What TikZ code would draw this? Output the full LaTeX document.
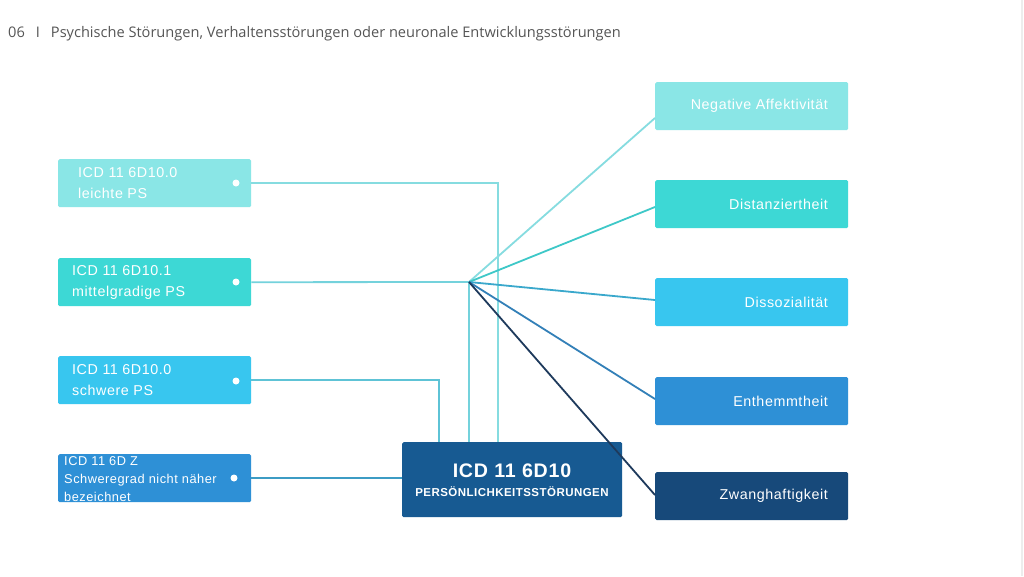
\documentclass[tikz,border=0pt]{standalone}
\usepackage{fontspec}
\setmainfont{Open Sans}
\newfontfamily\boxfont[LetterSpace=4]{Liberation Sans}
\usetikzlibrary{calc}
\definecolor{cA}{HTML}{8AE6E6}
\definecolor{cB}{HTML}{3DD8D5}
\definecolor{cC}{HTML}{38C6EF}
\definecolor{cD}{HTML}{2E90D6}
\definecolor{cE}{HTML}{175A92}
\definecolor{cF}{HTML}{17497A}
\definecolor{lA}{HTML}{86DCE0}
\definecolor{lB}{HTML}{3EC8C8}
\definecolor{lC}{HTML}{3AA8CC}
\definecolor{lD}{HTML}{3380B8}
\definecolor{lE}{HTML}{1E3A5C}
\definecolor{lV}{HTML}{74D2DC}
\definecolor{lW}{HTML}{5EC3D6}
\definecolor{lX}{HTML}{3C9CC4}
\definecolor{titlegrey}{HTML}{555555}
\tikzset{
  box/.style={rectangle, rounded corners=1.5pt, minimum width=193pt, minimum height=48pt, inner sep=0pt, anchor=north west},
  ltext/.style={anchor=west, align=left, text=white, inner sep=0pt, font=\boxfont\fontsize{14.3}{21}\selectfont},
  rtext/.style={anchor=east, text=white, inner sep=0pt, font=\boxfont\fontsize{14.3}{16}\selectfont},
  dot/.style={circle, fill=white, minimum size=7pt, inner sep=0pt},
  conn/.style={line width=1.8pt},
}
\begin{document}
\begin{tikzpicture}[x=1pt,y=-1pt]
\useasboundingbox (0,0) rectangle (1024,576);
\fill[white] (0,0) rectangle (1024,576);
\draw[line width=2pt, color=black!7] (1022,0) -- (1022,576);
% title
\node[anchor=base west, inner sep=0pt, text=titlegrey, font=\fontsize{14.6}{17}\selectfont] (title) at (8,37)
  {06\hspace{11pt}I\hspace{11pt}Psychische Störungen, Verhaltensstörungen oder neuronale Entwicklungsstörungen};
% left boxes
\node[box, fill=cA] (b1) at (58,159) {};
\node[box, fill=cB] (b2) at (58,258) {};
\node[box, fill=cC] (b3) at (58,356) {};
\node[box, fill=cD] (b4) at (58,454) {};
\node[ltext] (t1) at (78,183) {ICD 11 6D10.0\\leichte PS};
\node[ltext] (t2) at (72,282) {ICD 11 6D10.1\\mittelgradige PS};
\node[ltext] (t3) at (72,380) {ICD 11 6D10.0\\schwere PS};
\node[ltext, font=\boxfont\fontsize{12.8}{18}\selectfont] (t4) at (64,479) {ICD 11 6D Z\\Schweregrad nicht näher\\bezeichnet};
\node[dot] (d1) at (236,183) {};
\node[dot] (d2) at (236,282) {};
\node[dot] (d3) at (236,381) {};
\node[dot] (d4) at (234,478) {};
% center box
\node[rectangle, rounded corners=1.5pt, fill=cE, minimum width=220pt, minimum height=75pt, inner sep=0pt, anchor=north west] (c) at (402,442) {};
\node[text=white, inner sep=0pt, font=\boxfont\bfseries\fontsize{19.6}{22}\selectfont] (ct1) at (512,471) {ICD 11 6D10};
\node[text=white, inner sep=0pt, font=\boxfont\bfseries\fontsize{11.5}{13}\selectfont] (ct2) at (512,492) {PERSÖNLICHKEITSSTÖRUNGEN};
% right boxes
\node[box, fill=cA] (r1) at (655,82) {};
\node[box, fill=cB] (r2) at (655,180) {};
\node[box, fill=cC] (r3) at (655,278) {};
\node[box, fill=cD] (r4) at (655,377) {};
\node[box, fill=cF] (r5) at (655,472) {};
\node[rtext] (rt1) at (828,106) {Negative Affektivität};
\node[rtext] (rt2) at (828,204) {Distanziertheit};
\node[rtext] (rt3) at (828,302) {Dissozialität};
\node[rtext] (rt4) at (828,401) {Enthemmtheit};
\node[rtext] (rt5) at (828,496) {Zwanghaftigkeit};
% coordinates
\coordinate (hub) at (469,282);
\coordinate (j1) at (498,442);
\coordinate (j2) at (469,442);
\coordinate (j3) at (439,442);
\coordinate (e1) at (655,118);
\coordinate (e2) at (655,207);
\coordinate (e3) at (655,300);
\coordinate (e4) at (655,399);
\coordinate (e5) at (655,495);
% connectors
\draw[conn, lA] (b1.east) -| (j1);
\draw[conn, lV] (b2.east) -- (hub);
\draw[conn, lV] (hub) -- (j2);
\draw[conn, lW] (b3.east) -| (j3);
\draw[conn, lX] (b4.east |- d4) -- (c.west |- d4);
\draw[conn, lA] (hub) -- (e1);
\draw[conn, lB] (hub) -- (e2);
\draw[conn, lC] (hub) -- (e3);
\draw[conn, lD] (hub) -- (e4);
\draw[conn, lE] (hub) -- (e5);
\end{tikzpicture}
\end{document}
